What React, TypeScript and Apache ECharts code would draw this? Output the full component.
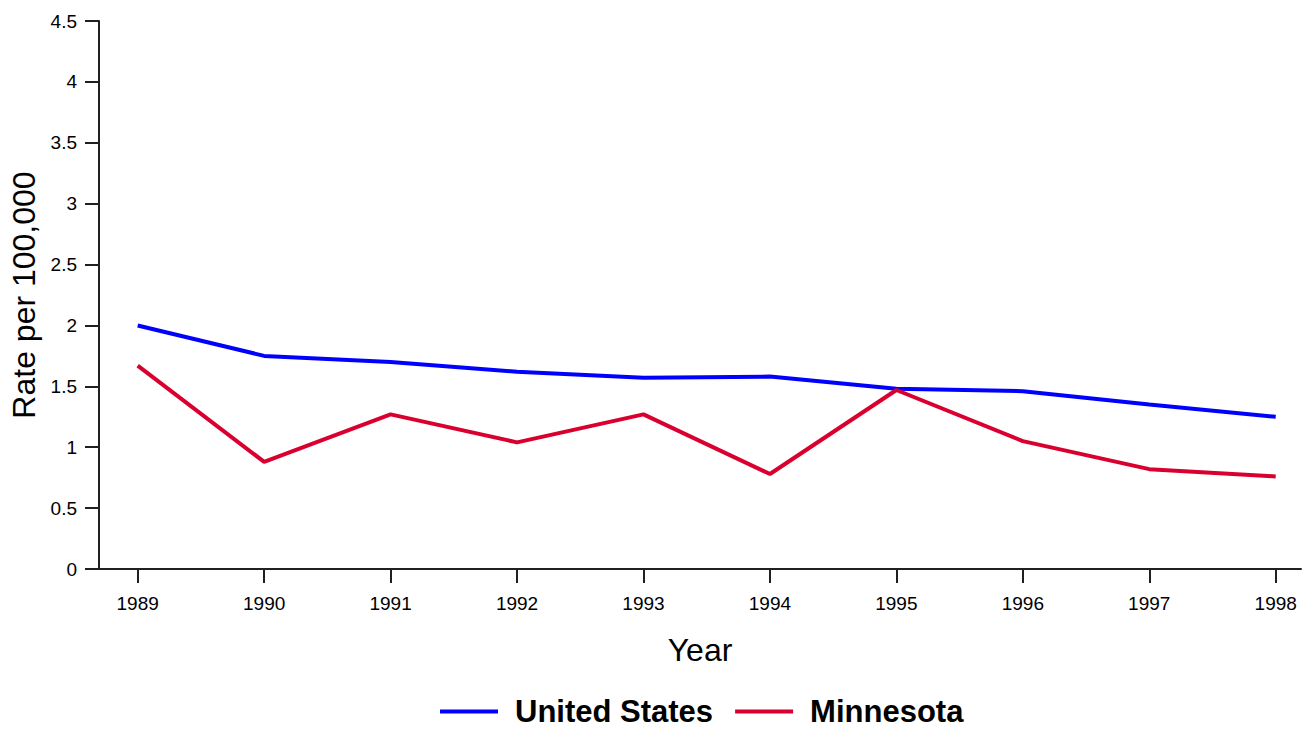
import React, { useEffect, useRef } from "react";
import * as echarts from "echarts";

const years = [1989, 1990, 1991, 1992, 1993, 1994, 1995, 1996, 1997, 1998];
const usRates = [2.0, 1.75, 1.7, 1.62, 1.57, 1.58, 1.48, 1.46, 1.35, 1.25];
const mnRates = [1.67, 0.88, 1.27, 1.04, 1.27, 0.78, 1.47, 1.05, 0.82, 0.76];
const yTicks = [0, 0.5, 1, 1.5, 2, 2.5, 3, 3.5, 4, 4.5];

export default function App() {
  const ref = useRef<HTMLDivElement>(null);
  useEffect(() => {
    document.body.style.margin = "0";
    const chart = echarts.init(ref.current!, null, { renderer: "svg" });
    const axisColor = "#231f20";
    const font = "'Liberation Sans', Arial, sans-serif";
    chart.setOption({
      animation: false,
      textStyle: { fontFamily: font },
      grid: { left: 99, right: 2, top: 21, bottom: 160, outerBoundsMode: "none", containLabel: false },
      legend: {
        left: 440,
        top: 696,
        padding: 0,
        itemWidth: 58,
        itemHeight: 4,
        itemGap: 22,
        icon: "rect",
        textStyle: {
          fontSize: 31,
          fontWeight: "bold",
          color: "#000",
          fontFamily: font,
          padding: [0, 0, 0, 12],
        },
        data: ["United States", "Minnesota"],
      },
      xAxis: {
        type: "value",
        min: 1988.694,
        max: 1998.2,
        name: "Year",
        nameLocation: "middle",
        nameGap: 65,
        nameTextStyle: { fontSize: 32, color: "#000", fontFamily: font },
        splitLine: { show: false },
        axisLine: { lineStyle: { color: axisColor, width: 2 } },
        axisTick: { show: true, length: 14, customValues: years, lineStyle: { color: axisColor, width: 2 } },
        axisLabel: { customValues: years, margin: 25, fontSize: 19, color: "#000", formatter: (v: number) => String(v) },
      },
      yAxis: {
        type: "value",
        min: 0,
        max: 4.5,
        interval: 0.5,
        name: "Rate per 100,000",
        nameLocation: "middle",
        nameGap: 56,
        nameTextStyle: { fontSize: 32, color: "#000", fontFamily: font },
        splitLine: { show: false },
        axisLine: { show: true, lineStyle: { color: axisColor, width: 2 } },
        axisTick: { show: true, length: 14, lineStyle: { color: axisColor, width: 2 } },
        axisLabel: {
          margin: 22,
          fontSize: 19,
          color: "#000",
          customValues: yTicks,
          formatter: (v: number) => String(v),
        },
      },
      series: [
        {
          name: "United States",
          type: "line",
          data: years.map((y, i) => [y, usRates[i]]),
          showSymbol: false,
          symbol: "none",
          lineStyle: { color: "#0000ff", width: 4 },
          itemStyle: { color: "#0000ff" },
        },
        {
          name: "Minnesota",
          type: "line",
          data: years.map((y, i) => [y, mnRates[i]]),
          showSymbol: false,
          symbol: "none",
          lineStyle: { color: "#d9002f", width: 4 },
          itemStyle: { color: "#d9002f" },
        },
      ],
    });
    return () => chart.dispose();
  }, []);
  return <div ref={ref} style={{ width: 1303, height: 729 }} />;
}
